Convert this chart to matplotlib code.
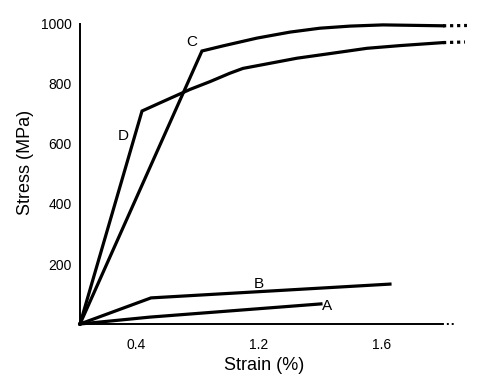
import matplotlib
matplotlib.use("Agg")
import matplotlib.pyplot as plt

plt.rcParams['font.family'] = ['Liberation Sans', 'DejaVu Sans']

# curve data (strain axis in plot units, stress in MPa)
d_x = [0, 0.443, 0.571, 0.786, 0.929, 1.071, 1.164, 1.357, 1.55, 1.764, 2.05, 2.286, 2.593]
d_y = [0, 710, 737, 782, 808, 836, 852, 869, 886, 900, 919, 928, 938]
c_x = [0, 0.871, 1.021, 1.264, 1.5, 1.714, 1.929, 2.164, 2.593]
c_y = [0, 910, 927, 953, 973, 986, 993, 997, 994]
b_x = [0, 0.507, 2.214]
b_y = [0, 87, 133]
a_x = [0, 0.5, 1.721]
a_y = [0, 23, 67]

d_ext_x = [2.593, 2.75]
d_ext_y = [938, 940]
c_ext_x = [2.593, 2.764]
c_ext_y = [994, 995]

xtick_pos = [0.4, 1.279, 2.157]
xtick_lab = ['0.4', '1.2', '1.6']
ytick_pos = [200, 400, 600, 800, 1000]

x_axis_end = 2.586
x_dots = [2.586, 2.671]

fig = plt.figure(figsize=(4.86, 3.87), dpi=100)
ax = fig.add_axes([80/486, 63/387, 400/486, 300/387])

lw = 2.3
for xs, ys in [(d_x, d_y), (c_x, c_y), (b_x, b_y), (a_x, a_y)]:
    ax.plot(xs, ys, color='black', lw=lw, solid_joinstyle='miter', clip_on=False)
for xs, ys in [(d_ext_x, d_ext_y), (c_ext_x, c_ext_y)]:
    ax.plot(xs, ys, color='black', lw=lw, ls=(0, (1, 1.2)), clip_on=False)
ax.plot(x_dots, [0, 0], color='black', lw=1.4, ls=(0, (1, 1.5)), clip_on=False)

ax.text(0.80, 940, 'C', fontsize=11, ha='center', va='center')
ax.text(0.31, 627, 'D', fontsize=11, ha='center', va='center')
ax.text(1.279, 135, 'B', fontsize=11, ha='center', va='center')
ax.text(1.764, 60, 'A', fontsize=11, ha='center', va='center')

ax.set_xlim(0, 400/140)
ax.set_ylim(0, 1000)
for s in ['top', 'right']:
    ax.spines[s].set_visible(False)
ax.spines['bottom'].set_bounds(0, x_axis_end)
ax.spines['left'].set_linewidth(1.4)
ax.spines['bottom'].set_linewidth(1.4)

ax.set_xticks(xtick_pos)
ax.set_xticklabels(xtick_lab)
ax.set_yticks(ytick_pos)
ax.tick_params(axis='both', length=0, labelsize=10)
ax.tick_params(axis='x', pad=10)
ax.tick_params(axis='y', pad=6)

ax.set_xlabel('Strain (%)', fontsize=13)
ax.set_ylabel('Stress (MPa)', fontsize=13)
ax.xaxis.set_label_coords(0.46, -0.137)
ax.yaxis.set_label_coords(-0.1375, 0.54)
ax.xaxis.label.set_va('center')
ax.yaxis.label.set_va('center')

fig.savefig('out.png', dpi=100)
